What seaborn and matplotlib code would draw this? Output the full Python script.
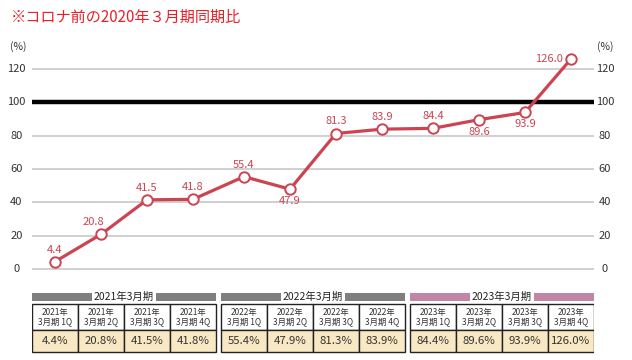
import matplotlib
matplotlib.use("Agg")
import matplotlib.pyplot as plt
from matplotlib.patches import Rectangle
import matplotlib.transforms as mtransforms
import seaborn as sns
import pandas as pd
import numpy as np

# ---- data ----
groups = ["2021年3月期", "2022年3月期", "2023年3月期"]
group_colors = ["#7f7f7f", "#7f7f7f", "#c385a5"]
quarters = ["1Q", "2Q", "3Q", "4Q"]
values = [4.4, 20.8, 41.5, 41.8, 55.4, 47.9, 81.3, 83.9, 84.4, 89.6, 93.9, 126.0]
value_labels = ["4.4", "20.8", "41.5", "41.8", "55.4", "47.9", "81.3", "83.9",
                "84.4", "89.6", "93.9", "126.0"]
table_values = ["4.4%", "20.8%", "41.5%", "41.8%", "55.4%", "47.9%", "81.3%", "83.9%",
                "84.4%", "89.6%", "93.9%", "126.0%"]
label_pos = ["above", "above-left", "above", "above", "above", "below", "above", "above",
             "above", "below", "below", "left"]
yticks = [0, 20, 40, 60, 80, 100, 120]
title = "※コロナ前の2020年３月期同期比"

sns.set_theme(style="white")
plt.rcParams['font.family'] = ['Noto Sans CJK JP', 'DejaVu Sans']

W, H = 632, 360
fig = plt.figure(figsize=(W / 100, H / 100), dpi=100)

gap = 5 / 46
n = len(values)
xpos = [i + (i // 4) * gap for i in range(n)]
group_of = [i // 4 for i in range(n)]
years = [groups[g][:4] for g in group_of]

left_px, right_px = 32, 594
ax = fig.add_axes([left_px / W, 1 - 275 / H, (right_px - left_px) / W, 225 / H])
px_per_unit = 200 / 120
ax.set_ylim((269 - 275) / px_per_unit, (269 - 50) / px_per_unit)
xmin, xmax = -0.5, xpos[-1] + 0.5
ax.set_xlim(xmin, xmax)

for yt in yticks:
    if yt == 100:
        ax.axhline(yt, color="black", lw=3.2, zorder=2)
    else:
        ax.axhline(yt, color="#c8c8c8", lw=1.2, zorder=1)

df = pd.DataFrame({"x": xpos, "value": values})
red = "#cc4452"
sns.lineplot(data=df, x="x", y="value", ax=ax, color=red, lw=2.3, marker="o",
             markersize=7.5, markerfacecolor="white", markeredgecolor=red,
             markeredgewidth=1.4, zorder=5)

offsets = {"above": (0, 12, "center"), "above-left": (-8, 12, "center"),
           "below": (0, -12, "center"), "left": (-8, 0, "right")}
for x, v, lab, pos in zip(xpos, values, value_labels, label_pos):
    dx, dy, ha = offsets[pos]
    ax.annotate(lab, (x, v), xytext=(dx * 0.72, dy * 0.72), textcoords="offset points",
                ha=ha, va="center", color=red, fontsize=8, zorder=6)

# y tick labels on both sides, centred
ax.set_yticks(yticks)
ax.set_yticklabels([])
ax.set_xticks([])
ax.set_xlabel("")
ax.set_ylabel("")
ax.tick_params(axis="y", left=False, right=False, labelleft=False, labelright=False)
trans = mtransforms.blended_transform_factory(ax.transAxes, ax.transData)
axw = right_px - left_px
for yt in yticks:
    ax.text((16.5 - left_px) / axw, yt, str(yt), transform=trans, ha="center",
            va="center", fontsize=8, color="#333333", clip_on=False)
    ax.text((605 - left_px) / axw, yt, str(yt), transform=trans, ha="center",
            va="center", fontsize=8, color="#333333", clip_on=False)
for s in ax.spines.values():
    s.set_visible(False)
ax.set_facecolor("none")

fig.text(10 / W, 1 - 47 / H, "(%)", fontsize=7.5, color="#333333", va="center", ha="left")
fig.text(597 / W, 1 - 47 / H, "(%)", fontsize=7.5, color="#333333", va="center", ha="left")
fig.text(11 / W, 1 - 17 / H, title, fontsize=10.9, color="#e8202a", va="center", ha="left")

# ---- table ----
tab_top, tab_bot = 290, 355
axt = fig.add_axes([left_px / W, 1 - tab_bot / H, (right_px - left_px) / W,
                    (tab_bot - tab_top) / H])
axt.set_xlim(xmin, xmax)
axt.set_ylim(tab_bot, tab_top)
axt.axis("off")

for g, (gname, gcol) in enumerate(zip(groups, group_colors)):
    gx = [x for x, gg in zip(xpos, group_of) if gg == g]
    x0, x1 = gx[0] - 0.5, gx[-1] + 0.5
    axt.add_patch(Rectangle((x0, 293), x1 - x0, 7.5, facecolor=gcol, edgecolor="none"))
    axt.text((x0 + x1) / 2, 296.5, gname, ha="center", va="center", fontsize=7.5,
             color="#222222",
             bbox=dict(boxstyle="square,pad=0.15", facecolor="white", edgecolor="none"))

for i, (x, yr) in enumerate(zip(xpos, years)):
    q = quarters[i % 4]
    axt.add_patch(Rectangle((x - 0.5, 304), 1, 26, facecolor="white",
                            edgecolor="#222222", lw=1.0))
    axt.add_patch(Rectangle((x - 0.5, 330), 1, 22, facecolor="#f9e8c4",
                            edgecolor="#222222", lw=1.0))
    axt.text(x, 317.5, f"{yr}年\n3月期 {q}", ha="center", va="center", fontsize=6.0,
             color="#333333", linespacing=1.0)
    axt.text(x, 341.5, table_values[i], ha="center", va="center", fontsize=8.2,
             color="#333333")

fig.savefig("out.png", dpi=100, facecolor="white")
